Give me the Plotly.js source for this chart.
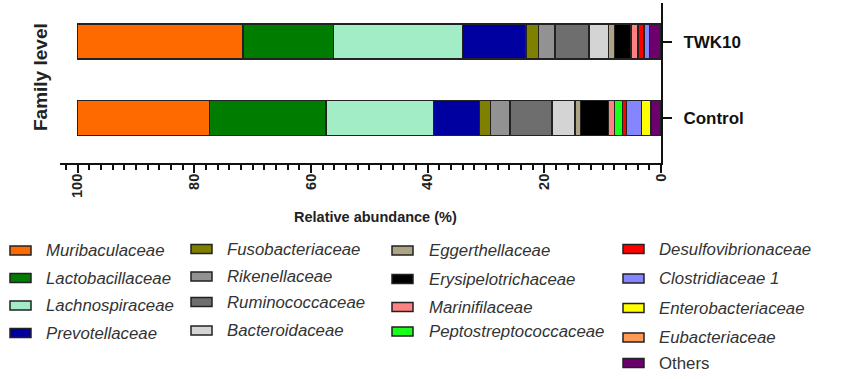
<!DOCTYPE html>
<html>
<head>
<meta charset="utf-8">
<script src="https://cdn.plot.ly/plotly-3.0.1.min.js"></script>
<style>html,body{margin:0;padding:0;background:#fff;}#chart{width:845px;height:379px;}</style>
</head>
<body>
<div id="chart"></div>
<script>
// ---- data ----
const groups = ['TWK10', 'Control'];
const families = ['Muribaculaceae','Lactobacillaceae','Lachnospiraceae','Prevotellaceae',
  'Fusobacteriaceae','Rikenellaceae','Ruminococcaceae','Bacteroidaceae',
  'Eggerthellaceae','Erysipelotrichaceae','Marinifilaceae','Peptostreptococcaceae',
  'Desulfovibrionaceae','Clostridiaceae 1','Enterobacteriaceae','Eubacteriaceae','Others'];
const twk10   = [28.4,15.5,22.1,10.9,2.1,2.8,5.9,3.3,1.0,2.9,1.2,0.0,1.0,0.9,0.0,0.0,2.0];
const control = [22.6,20.0,18.4,7.9,1.9,3.3,7.2,4.0,0.9,4.8,1.0,1.4,0.7,2.6,1.6,0.0,1.7];
const colors = ['#ff6a00','#007d00','#a2edc6','#0000a0','#808000','#929292','#6e6e6e','#d4d4d4',
  '#ada486','#000000','#ff8282','#1aff1a','#ff0000','#8585ff','#ffff00','#ff9955','#6c006c'];
const tickVals = [0,20,40,60,80,100];

// ---- traces (stack from 0 on the right, so add in reverse) ----
const traces = [];
for (let i = families.length - 1; i >= 0; i--) {
  traces.push({
    type: 'bar', orientation: 'h',
    name: families[i],
    y: groups,
    x: [twk10[i], control[i]],
    width: 0.46,
    marker: {color: colors[i], line: {color: '#222', width: 1.5}},
    showlegend: false,
    hoverinfo: 'name+x'
  });
}

// ---- layout helpers ----
const L = 60, R = 661, T = 3, B = 163;
const px = v => (v - L) / (R - L);
const py = v => (B - v) / (B - T);

const shapes = [];
const annotations = [];

// legend columns (manual)
const cols = [
  {sx: 10, tx: 44, rows: [250.5, 278, 305.5, 333]},
  {sx: 191, tx: 225, rows: [249, 276.5, 302, 330.5]},
  {sx: 392, tx: 427, rows: [250.5, 279, 307, 331.5]},
  {sx: 623, tx: 657, rows: [249, 278.5, 308, 337.5, 363]}
];
let k = 0;
cols.forEach(c => {
  c.rows.forEach(r => {
    shapes.push({type: 'rect', xref: 'paper', yref: 'paper',
      x0: px(c.sx), x1: px(c.sx + 21), y0: py(r + 4.5), y1: py(r - 4.5),
      fillcolor: colors[k], line: {color: '#222', width: 1.5}});
    annotations.push({xref: 'paper', yref: 'paper', x: px(c.tx), y: py(r),
      xanchor: 'left', yanchor: 'middle', showarrow: false,
      text: families[k] === 'Others' ? 'Others' : '<i>' + families[k] + '</i>',
      font: {family: 'Arial, Liberation Sans, sans-serif', size: 16.8, color: '#333'}});
    k++;
  });
});

// axis titles
annotations.push({xref: 'paper', yref: 'paper', x: px(375), y: py(217),
  xanchor: 'center', yanchor: 'middle', showarrow: false,
  text: '<b>Relative abundance (%)</b>',
  font: {family: 'Arial, Liberation Sans, sans-serif', size: 14.5, color: '#222'}});
annotations.push({xref: 'paper', yref: 'paper', x: px(40), y: py(77),
  xanchor: 'center', yanchor: 'middle', showarrow: false, textangle: -90,
  text: '<b>Family level</b>',
  font: {family: 'Arial, Liberation Sans, sans-serif', size: 19, color: '#222'}});

const layout = {
  width: 845, height: 379,
  margin: {l: L, r: 845 - R, t: T, b: 379 - B, pad: 0},
  paper_bgcolor: '#fff', plot_bgcolor: '#fff',
  barmode: 'stack',
  showlegend: false,
  xaxis: {
    range: [103, 0],
    tickvals: tickVals,
    ticktext: tickVals.map(String),
    tickangle: -90,
    ticks: 'outside', ticklen: 8, tickwidth: 2, tickcolor: '#111',
    minor: {dtick: 2, tick0: 0, ticks: 'outside', ticklen: 5, tickwidth: 2, tickcolor: '#111'},
    showline: true, linewidth: 2, linecolor: '#111',
    showgrid: false, zeroline: false,
    ticklabelstandoff: -5,
    tickfont: {family: 'Arial, Liberation Sans, sans-serif', size: 14.5, color: '#222', weight: 'bold'},
    fixedrange: true
  },
  yaxis: {
    type: 'category',
    categoryorder: 'array', categoryarray: ['Control', 'TWK10'],
    range: [-0.587, 1.505],
    side: 'right',
    ticks: 'outside', ticklen: 9, tickwidth: 2, tickcolor: '#111',
    showline: true, linewidth: 2, linecolor: '#111',
    showgrid: false, zeroline: false,
    ticklabelstandoff: 8,
    tickfont: {family: 'Arial, Liberation Sans, sans-serif', size: 17, color: '#111', weight: 'bold'},
    fixedrange: true
  },
  shapes: shapes,
  annotations: annotations
};

Plotly.newPlot('chart', traces, layout, {displayModeBar: false, staticPlot: true});
</script>
</body>
</html>
